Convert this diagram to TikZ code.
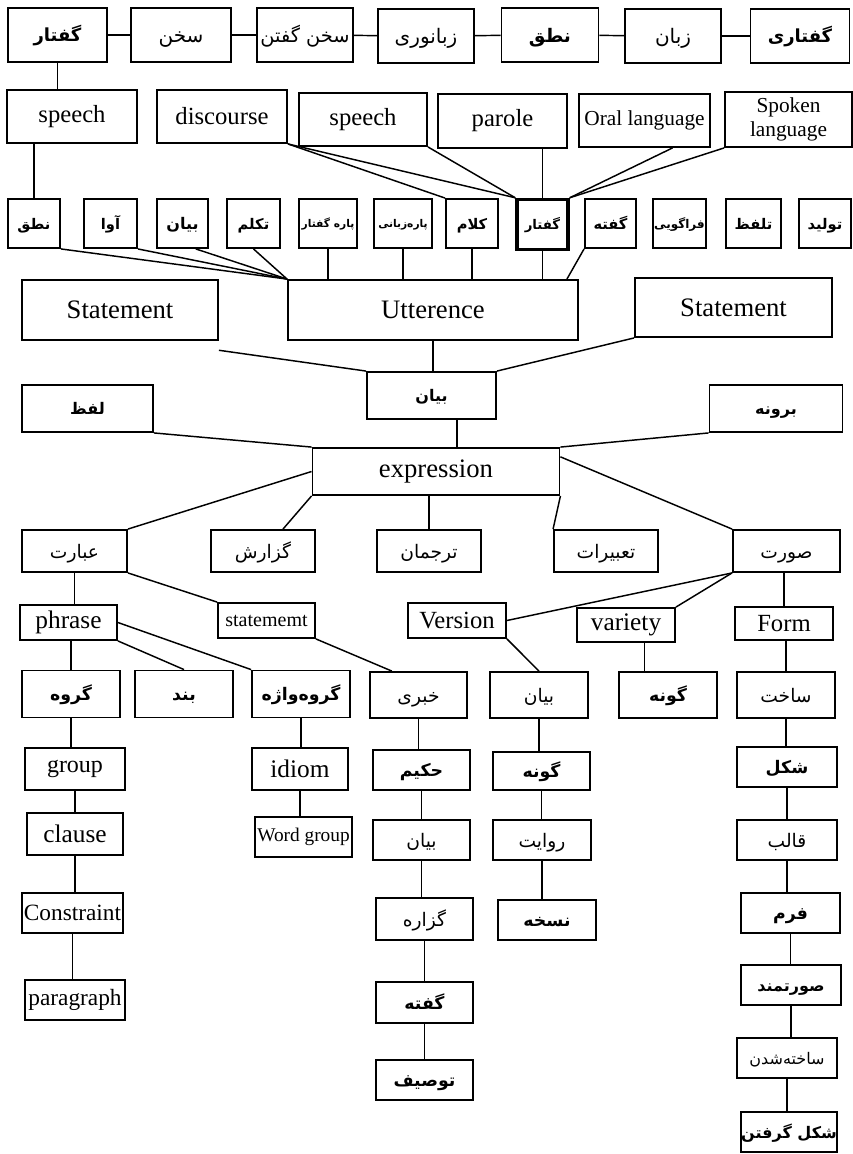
\documentclass[tikz,border=0pt]{standalone}
\usepackage{fontspec}
\setmainfont{Liberation Serif}
\newfontfamily\farsifont[Script=Arabic]{DejaVu Sans}
\TeXXeTstate=1
\newcommand{\rtltext}[1]{\beginR #1\endR}
\usepackage{tikz}

\tikzset{
  wbox/.style={draw, line width=1.4pt, inner sep=0pt, align=center},
  wh/.style 2 args={minimum width=#1*0.75pt, minimum height=#2*0.75pt},
  link/.style={line width=1.1pt},
  en/.style={font=\fontsize{#1}{#1}\selectfont},
  fa/.style={font=\fontsize{#1}{#1}\selectfont\farsifont, text height=0.75*#1pt, text depth=0pt},
  fab/.style={font=\fontsize{#1}{#1}\selectfont\farsifont\bfseries, text height=0.75*#1pt, text depth=0pt},
}

\begin{document}
\begin{tikzpicture}[x=0.75pt,y=0.75pt,yscale=-1,xscale=1]
  \useasboundingbox (0,0) rectangle (853,1154);

  %Shape: Rectangle -- top row
  \node[wbox, wh={99}{54}, fab=13.5] (t1) at (57.5,35) {\rtltext{گفتار}};
  \node[wbox, wh={100}{54}, fa=15] (t2) at (181,35) {\rtltext{سخن}};
  \node[wbox, wh={96}{54}, fa=14.5] (t3) at (305,35) {\rtltext{سخن گفتن}};
  \node[wbox, wh={96}{54}, fa=15] (t4) at (426,36) {\rtltext{زبانوری}};
  \node[wbox, wh={97}{54}, fab=14] (t5) at (550,35) {\rtltext{نطق}};
  \node[wbox, wh={96}{54}, fa=15] (t6) at (673,36) {\rtltext{زبان}};
  \node[wbox, wh={99}{54}, fab=13.5] (t7) at (800,36) {\rtltext{گفتاری}};

  %Shape: Rectangle -- english row
  \node[wbox, wh={130}{53}, en=18.5] (s1) at (72,116.5) {speech};
  \node[wbox, wh={130}{53}, en=18.5] (s2) at (222,116.5) {discourse};
  \node[wbox, wh={128}{53}, en=18.5] (s3) at (363,119.5) {speech};
  \node[wbox, wh={129}{54}, en=18.5] (s4) at (502.5,121) {parole};
  \node[wbox, wh={131}{53}, en=16] (s5) at (644.5,120.5) {Oral language};
  \node[wbox, wh={127}{55}, font=\fontsize{16}{18}\selectfont] (s6) at (788.5,119.5) {Spoken\\language};

  %Shape: Rectangle -- small row
  \node[wbox, wh={52}{49}, fab=11] (m1) at (34,223.5) {\rtltext{نطق}};
  \node[wbox, wh={53}{49}, fab=11] (m2) at (110.5,223.5) {\rtltext{آوا}};
  \node[wbox, wh={51}{49}, fab=12] (m3) at (182.5,223.5) {\rtltext{بیان}};
  \node[wbox, wh={53}{49}, fab=11] (m4) at (253.5,223.5) {\rtltext{تکلم}};
  \node[wbox, wh={58}{49}, fab=8] (m5) at (328,223.5) {\rtltext{پاره گفتار}};
  \node[wbox, wh={58}{49}, fab=8] (m6) at (403,223.5) {\rtltext{پاره^^^^200cزبانی}};
  \node[wbox, wh={52}{49}, fab=11] (m7) at (472,223.5) {\rtltext{کلام}};
  \node[wbox, wh={51}{50}, fab=10, line width=2.6pt] (m8) at (542.5,224.5) {\rtltext{گفتار}};
  \node[wbox, wh={51}{49}, fab=11] (m9) at (610.5,223.5) {\rtltext{گفته}};
  \node[wbox, wh={53}{49}, fab=9] (m10) at (679.5,223.5) {\rtltext{فراگویی}};
  \node[wbox, wh={55}{49}, fab=11] (m11) at (753.5,223.5) {\rtltext{تلفظ}};
  \node[wbox, wh={52}{49}, fab=11] (m12) at (825,223.5) {\rtltext{تولید}};

  %Shape: Rectangle -- statements
  \node[wbox, wh={196}{60}, en=20] (stl) at (120,310) {Statement};
  \node[wbox, wh={290}{60}, en=20] (utt) at (433,310) {Utterence};
  \node[wbox, wh={197}{59}, en=20] (str) at (733.5,307.5) {Statement};
  \node[wbox, wh={129}{47}, fab=12] (bc) at (431.5,395.5) {\rtltext{بیان}};
  \node[wbox, wh={131}{47}, fab=12] (lafz) at (87.5,408.5) {\rtltext{لفظ}};
  \node[wbox, wh={133}{47}, fab=12] (brn) at (776,408.5) {\rtltext{برونه}};
  \node[wbox, wh={247}{47}, en=20] (ex) at (436,471.5) {expression};

  %Shape: Rectangle -- row under expression
  \node[wbox, wh={105}{42}, fa=14] (eb) at (74.5,551) {\rtltext{عبارت}};
  \node[wbox, wh={104}{42}, fa=14] (gz) at (263,551) {\rtltext{گزارش}};
  \node[wbox, wh={104}{42}, fa=14] (tj) at (429,551) {\rtltext{ترجمان}};
  \node[wbox, wh={104}{42}, fa=14] (tb) at (606,551) {\rtltext{تعبیرات}};
  \node[wbox, wh={107}{42}, fa=14] (sr) at (786.5,551) {\rtltext{صورت}};

  \node[wbox, wh={97}{35}, en=19] (ph) at (68.5,622.5) {phrase};
  \node[wbox, wh={97}{35}, en=15] (sm) at (266.5,620.5) {statememt};
  \node[wbox, wh={98}{35}, en=18.5] (vs) at (457,620.5) {Version};
  \node[wbox, wh={98}{34}, en=19] (vr) at (626,625) {variety};
  \node[wbox, wh={98}{33}, en=18.5] (fm) at (784,623.5) {Form};

  \node[wbox, wh={98}{47}, fab=13] (gr) at (71,694) {\rtltext{گروه}};
  \node[wbox, wh={98}{47}, fab=13] (bd) at (184,694) {\rtltext{بند}};
  \node[wbox, wh={98}{47}, fab=13] (gv) at (301,694) {\rtltext{گروه^^^^200cواژه}};
  \node[wbox, wh={97}{46}, fa=14] (kb) at (418.5,695) {\rtltext{خبری}};
  \node[wbox, wh={98}{46}, fa=14] (b2) at (539,695) {\rtltext{بیان}};
  \node[wbox, wh={98}{46}, fab=13] (g1) at (668,695) {\rtltext{گونه}};
  \node[wbox, wh={98}{46}, fa=14] (sk) at (786,695) {\rtltext{ساخت}};

  \node[wbox, wh={100}{42}, en=18] (gp) at (75,769) {group};
  \node[wbox, wh={96}{42}, en=19] (id) at (300,769) {idiom};
  \node[wbox, wh={97}{40}, fab=13] (hk) at (421.5,770) {\rtltext{حکیم}};
  \node[wbox, wh={97}{38}, fab=13] (g2) at (541.5,771) {\rtltext{گونه}};
  \node[wbox, wh={100}{40}, fab=13] (sh) at (787,767) {\rtltext{شکل}};

  \node[wbox, wh={96}{42}, en=19] (cl) at (75,834) {clause};
  \node[wbox, wh={97}{40}, en=14.5] (wg) at (303.5,837) {Word group};
  \node[wbox, wh={97}{40}, fa=14] (b3) at (421.5,840) {\rtltext{بیان}};
  \node[wbox, wh={98}{40}, fa=14] (rv) at (542,840) {\rtltext{روایت}};
  \node[wbox, wh={100}{40}, fa=14] (ql) at (787,840) {\rtltext{قالب}};

  \node[wbox, wh={101}{40}, en=17.5] (cs) at (72.5,913) {Constraint};
  \node[wbox, wh={97}{42}, fa=14] (gzr) at (424.5,919) {\rtltext{گزاره}};
  \node[wbox, wh={98}{40}, fab=13] (ns) at (547,920) {\rtltext{نسخه}};
  \node[wbox, wh={99}{40}, fab=13] (frm) at (790.5,913) {\rtltext{فرم}};

  \node[wbox, wh={100}{40}, en=17.5] (pg) at (75,1000) {paragraph};
  \node[wbox, wh={97}{41}, fab=13] (gf) at (424.5,1002.5) {\rtltext{گفته}};
  \node[wbox, wh={100}{40}, fab=12] (srm) at (791,985) {\rtltext{صورتمند}};

  \node[wbox, wh={97}{40}, fab=13] (ts) at (424.5,1080) {\rtltext{توصیف}};
  \node[wbox, wh={100}{40}, fa=12] (sks) at (787,1058) {\rtltext{ساخته^^^^200cشدن}};
  \node[wbox, wh={96}{40}, fab=12] (shg) at (789,1132) {\rtltext{شکل گرفتن}};

  %Straight Lines -- top row
  \draw[link] (t1) -- (t2);
  \draw[link] (t2) -- (t3);
  \draw[link] (t3) -- (t4);
  \draw[link] (t4) -- (t5);
  \draw[link] (t5) -- (t6);
  \draw[link] (t6) -- (t7);
  \draw[link] (t1.south) -- (t1.south |- s1.north);

  %Straight Lines -- english row to small row
  \draw[link] (m1.north |- s1.south) -- (m1.north);
  \draw[link] (s2.south east) -- (m7.north west);
  \draw[link] (s2.south east) -- (m8.north west);
  \draw[link] (s3.south east) -- (m8.north west);
  \draw[link] (m8.north |- s4.south) -- (m8.north);
  \draw[link] ([xshift=21pt]s5.south) -- (m8.north east);
  \draw[link] (s6.south west) -- (m8.north east);

  %Straight Lines -- small row to Utterence
  \draw[link] (m1.south east) -- (utt.north west);
  \draw[link] (m2.south east) -- (utt.north west);
  \draw[link] ([xshift=10pt]m3.south) -- (utt.north west);
  \draw[link] (m4.south) -- (utt.north west);
  \draw[link] (m5.south) -- (m5.south |- utt.north);
  \draw[link] (m6.south) -- (m6.south |- utt.north);
  \draw[link] (m7.south) -- (m7.south |- utt.north);
  \draw[link] (m8.south) -- (m8.south |- utt.north);
  \draw[link] (m9.south west) -- ([xshift=-9pt]utt.north east);

  %Straight Lines -- to expression
  \draw[link] (utt.south) -- (utt.south |- bc.north);
  \draw[link] ([yshift=7pt]stl.south east) -- (bc.north west);
  \draw[link] (str.south west) -- (bc.north east);
  \coordinate (bcx) at ([xshift=19pt]bc.south);
  \draw[link] (bcx) -- (bcx |- ex.north);
  \draw[link] (lafz.south east) -- (ex.north west);
  \draw[link] (brn.south west) -- (ex.north east);

  %Straight Lines -- from expression
  \draw[link] (ex.west) -- (eb.north east);
  \draw[link] (ex.south west) -- ([xshift=15pt]gz.north);
  \draw[link] (tj.north |- ex.south) -- (tj.north);
  \draw[link] (ex.south east) -- (tb.north west);
  \draw[link] ([yshift=-11pt]ex.east) -- (sr.north west);

  %Straight Lines -- left branch
  \draw[link] (eb.south) -- (eb.south |- ph.north);
  \draw[link] (eb.south east) -- (sm.north west);
  \draw[link] (gr.north |- ph.south) -- (gr.north);
  \draw[link] (ph.south east) -- (bd.north);
  \draw[link] (ph.east) -- (gv.north west);
  \draw[link] (sm.south east) -- ([xshift=-20pt]kb.north);
  \draw[link] (gr.south) -- (gr.south |- gp.north);
  \draw[link] (gp.south) -- (gp.south |- cl.north);
  \draw[link] (cl.south) -- (cl.south |- cs.north);
  \draw[link] (cs.south) -- (cs.south |- pg.north);
  \draw[link] (gv.south) -- (gv.south |- id.north);
  \draw[link] (id.south) -- (id.south |- wg.north);

  %Straight Lines -- middle branch
  \draw[link] (kb.south) -- (kb.south |- hk.north);
  \draw[link] (hk.south) -- (hk.south |- b3.north);
  \draw[link] (b3.south) -- (b3.south |- gzr.north);
  \draw[link] (gzr.south) -- (gzr.south |- gf.north);
  \draw[link] (gf.south) -- (gf.south |- ts.north);
  \draw[link] (vs.south east) -- (b2.north);
  \draw[link] (b2.south) -- (b2.south |- g2.north);
  \draw[link] (g2.south) -- (g2.south |- rv.north);
  \draw[link] (rv.south) -- (rv.south |- ns.north);

  %Straight Lines -- right branch
  \draw[link] (sr.south west) -- (vs.east);
  \draw[link] (sr.south west) -- (vr.north east);
  \draw[link] (fm.north |- sr.south) -- (fm.north);
  \coordinate (vrx) at ([xshift=14pt]vr.south);
  \draw[link] (vrx) -- (vrx |- g1.north);
  \draw[link] (sk.north |- fm.south) -- (sk.north);
  \draw[link] (sk.south) -- (sk.south |- sh.north);
  \draw[link] (sh.south) -- (sh.south |- ql.north);
  \draw[link] (ql.south) -- (ql.south |- frm.north);
  \draw[link] (frm.south) -- (frm.south |- srm.north);
  \draw[link] (srm.south) -- (srm.south |- sks.north);
  \draw[link] (sks.south) -- (sks.south |- shg.north);

\end{tikzpicture}
\end{document}
